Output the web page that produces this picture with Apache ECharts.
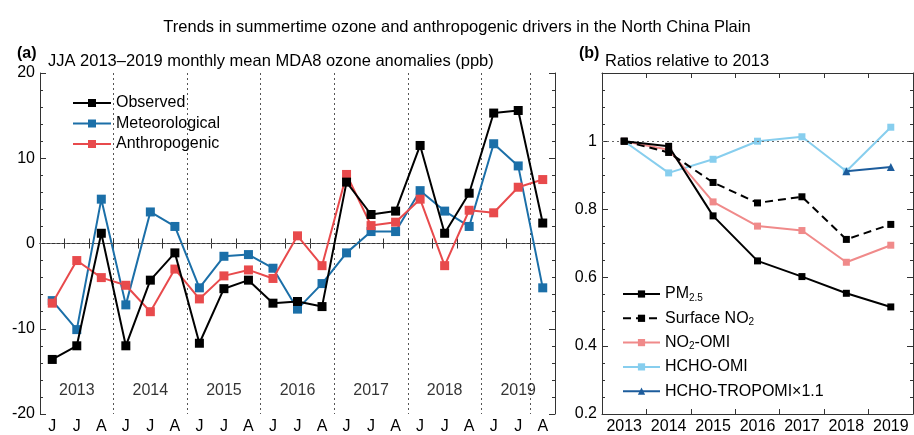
<!DOCTYPE html>
<html>
<head>
<meta charset="utf-8">
<script src="https://cdn.jsdelivr.net/npm/echarts@6/dist/echarts.min.js"></script>
<style>
html,body{margin:0;padding:0;background:#fff;}
#c{width:914px;height:435px;}
</style>
</head>
<body>
<div id="c"></div>
<script>
// ---- Data: panel (a) ----
var years = ['2013', '2014', '2015', '2016', '2017', '2018', '2019'];
var months = ['J', 'J', 'A'];
var observed = [-13.6, -12.0, 1.2, -12.0, -4.3, -1.1, -11.7, -5.3, -4.3, -7.0, -6.8, -7.4,
  7.2, 3.4, 3.8, 11.5, 1.2, 5.9, 15.3, 15.6, 2.4];
var meteorological = [-6.7, -10.1, 5.2, -7.2, 3.7, 2.0, -5.2, -1.5, -1.3, -2.9, -7.7, -4.7,
  -1.1, 1.4, 1.4, 6.2, 3.8, 2.0, 11.7, 9.1, -5.2];
var anthropogenic = [-7.0, -2.0, -4.0, -4.9, -8.0, -3.0, -6.5, -3.8, -3.1, -4.1, 0.9, -2.6,
  8.1, 2.1, 2.5, 5.2, -2.6, 3.9, 3.6, 6.6, 7.5];

// ---- Data: panel (b) ----
var bYears = ['2013', '2014', '2015', '2016', '2017', '2018', '2019'];
var pm25 = [1.0, 0.985, 0.781, 0.649, 0.603, 0.554, 0.514];
var surfaceNO2 = [1.0, 0.967, 0.879, 0.819, 0.837, 0.712, 0.756];
var no2OMI = [1.0, 0.975, 0.822, 0.751, 0.738, 0.645, 0.695];
var hchoOMI = [1.0, 0.907, 0.947, 1.0, 1.013, 0.912, 1.041];
var hchoTROPOMI = [null, null, null, null, null, 0.912, 0.924];

// ---- Build ----
var cats = [];
years.forEach(function (y) { months.forEach(function (m, i) { cats.push(y + '-' + i + '-' + m); }); });

var FONT = 'Liberation Sans, Arial, Helvetica, sans-serif';
var AX = '#333';
var chart = echarts.init(document.getElementById('c'), null, { renderer: 'canvas' });

function boxXAxis(gridIndex, data, pos, showLabel, split) {
  return {
    type: 'category', gridIndex: gridIndex, data: data, position: pos, boundaryGap: true,
    axisLine: { show: true, lineStyle: { color: AX, width: 1 } },
    axisTick: { show: true, inside: true, length: 5, interval: 0, lineStyle: { color: AX } },
    axisLabel: showLabel ? {
      show: true, color: '#000', fontSize: 16, fontFamily: FONT, margin: 5, interval: 0,
      formatter: function (v) { var p = v.split('-'); return p.length > 2 ? p[2] : v; }
    } : { show: false },
    splitLine: split ? { show: true, interval: 2, lineStyle: { color: '#555', type: [2, 3], width: 1 } } : { show: false }
  };
}
function boxYAxis(gridIndex, min, max, interval, minorSplit, pos, showLabel, fmt) {
  return {
    type: 'value', gridIndex: gridIndex, min: min, max: max, interval: interval, position: pos,
    axisLine: { show: true, lineStyle: { color: AX, width: 1 } },
    axisTick: { show: true, inside: true, length: 6, lineStyle: { color: AX } },
    minorTick: { show: true, splitNumber: minorSplit, length: 3, lineStyle: { color: AX } },
    axisLabel: showLabel ? { show: true, color: '#000', fontSize: 16, fontFamily: FONT, margin: 5, formatter: fmt } : { show: false },
    splitLine: { show: false }
  };
}

var refLine = {
  silent: true, symbol: 'none', label: { show: false },
  lineStyle: { color: '#666', type: [2, 3], width: 1 }
};

function lineSeries(name, xi, yi, data, color, opts) {
  opts = opts || {};
  return {
    name: name, type: 'line', xAxisIndex: xi, yAxisIndex: yi, data: data,
    symbol: opts.symbol || 'rect', symbolSize: opts.size || 9,
    lineStyle: { color: color, width: 2, type: opts.dash || 'solid' },
    itemStyle: { color: color },
    connectNulls: false, animation: false, z: opts.z || 3
  };
}

var yearLabelData = years.map(function (y, i) { return [cats[i * 3 + 1], -17.3, y]; });

var subRich = {
  sub: { fontSize: 10, fontFamily: FONT, color: '#000', verticalAlign: 'bottom', padding: [6, 0, 0, 0] }
};

var SUB_TOP = 48;
function txt(text, left, top, size, bold) {
  return { text: text, left: left, top: top,
    textStyle: { fontSize: size, fontWeight: bold ? 'bold' : 'normal', color: '#000', fontFamily: FONT } };
}

var option = {
  backgroundColor: '#fff',
  animation: false,
  textStyle: { fontFamily: FONT },
  title: [
    { text: 'Trends in summertime ozone and anthropogenic drivers in the North China Plain', left: 'center', top: 14,
      textStyle: { fontSize: 16.5, fontWeight: 'normal', color: '#000', fontFamily: FONT } },
    txt('(a)', 12, SUB_TOP - 7, 16, true),
    txt('JJA 2013–2019 monthly mean MDA8 ozone anomalies (ppb)', 43, SUB_TOP, 16.5, false),
    txt('(b)', 574, SUB_TOP - 7, 16, true),
    txt('Ratios relative to 2013', 600, SUB_TOP, 16.5, false)
  ],
  grid: [
    { left: 40, right: 359, top: 73, bottom: 19, containLabel: false },
    { left: 602, right: 1, top: 73, bottom: 20, containLabel: false }
  ],
  xAxis: [
    boxXAxis(0, cats, 'bottom', true, true),
    boxXAxis(0, cats, 'top', false, false),
    boxXAxis(1, bYears, 'bottom', true, false),
    boxXAxis(1, bYears, 'top', false, false)
  ],
  yAxis: [
    boxYAxis(0, -20, 20, 10, 5, 'left', true),
    boxYAxis(0, -20, 20, 10, 5, 'right', false),
    boxYAxis(1, 0.2, 1.2, 0.2, 4, 'left', true, function (v) {
      if (v > 1.1) return '';
      return Math.abs(v - 1) < 1e-9 ? '1' : v.toFixed(1);
    }),
    boxYAxis(1, 0.2, 1.2, 0.2, 4, 'right', false)
  ],
  legend: [
    { data: ['Observed', 'Meteorological', 'Anthropogenic'], orient: 'vertical', left: 67, top: 90,
      itemWidth: 38, itemHeight: 10, itemGap: 4.5,
      textStyle: { fontSize: 16, color: '#000', fontFamily: FONT, lineHeight: 16 } },
    { data: ['PM2.5', 'Surface NO2', 'NO2-OMI', 'HCHO-OMI', 'HCHO-TROPOMI×1.1'], orient: 'vertical', left: 617, top: 280,
      itemWidth: 37, itemHeight: 9, itemGap: 6.3,
      formatter: function (n) {
        if (n === 'PM2.5') return 'PM{sub|2.5}';
        if (n === 'Surface NO2') return 'Surface NO{sub|2}';
        if (n === 'NO2-OMI') return 'NO{sub|2}-OMI';
        return n;
      },
      textStyle: { fontSize: 16, color: '#000', fontFamily: FONT, lineHeight: 18, rich: subRich } }
  ],
  series: [
    Object.assign(lineSeries('Observed', 0, 0, observed, '#000000', { z: 5 }), {
      markLine: Object.assign({ data: [{ yAxis: 0 }] }, refLine)
    }),
    lineSeries('Meteorological', 0, 0, meteorological, '#1b6fa8', { z: 3 }),
    lineSeries('Anthropogenic', 0, 0, anthropogenic, '#e84a4c', { z: 4 }),
    {
      type: 'scatter', xAxisIndex: 0, yAxisIndex: 0, data: yearLabelData, symbolSize: 0, silent: true,
      label: { show: true, position: 'inside', formatter: function (p) { return p.data[2]; },
        fontSize: 16, color: '#000', fontFamily: FONT }
    },
    Object.assign(lineSeries('PM2.5', 2, 2, pm25, '#000000', { size: 7, z: 6 }), {
      markLine: Object.assign({ data: [{ yAxis: 1 }] }, refLine)
    }),
    lineSeries('Surface NO2', 2, 2, surfaceNO2, '#000000', { size: 7, dash: [8, 5], z: 5 }),
    lineSeries('NO2-OMI', 2, 2, no2OMI, '#f08a8a', { size: 7, z: 4 }),
    lineSeries('HCHO-OMI', 2, 2, hchoOMI, '#87ceee', { size: 7, z: 3 }),
    lineSeries('HCHO-TROPOMI×1.1', 2, 2, hchoTROPOMI, '#1c5c9c', { size: 8, symbol: 'triangle', z: 7 })
  ]
};
chart.setOption(option);
</script>
</body>
</html>
